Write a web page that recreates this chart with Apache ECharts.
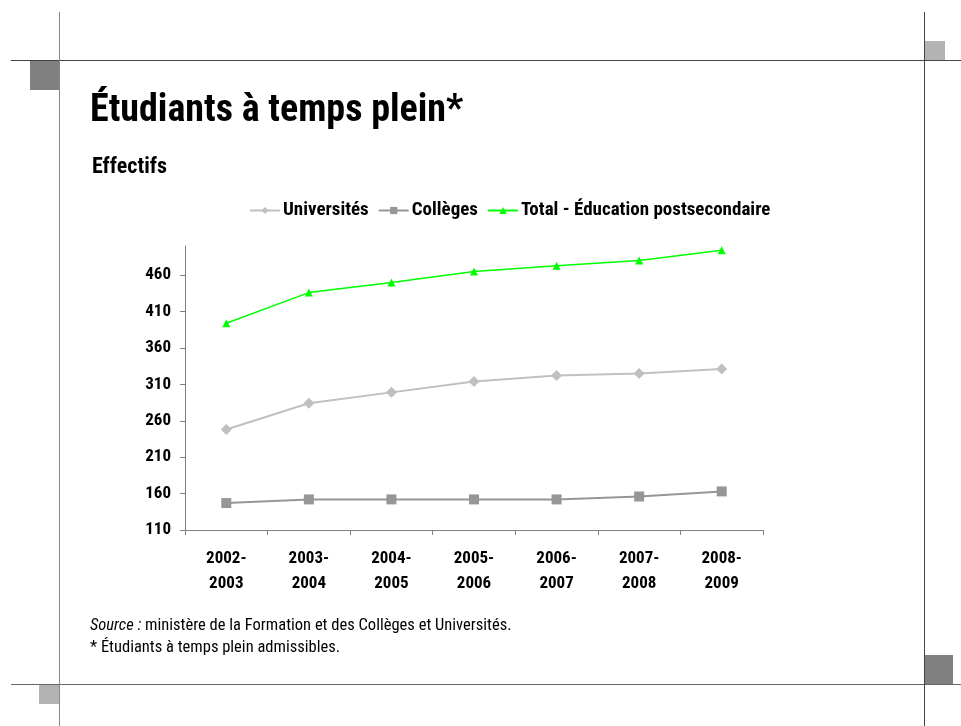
<!DOCTYPE html>
<html>
<head>
<meta charset="utf-8">
<script src="https://cdn.jsdelivr.net/npm/echarts@6/dist/echarts.min.js"></script>
<style>
html,body{margin:0;padding:0;background:#fff;}
#chart{width:961px;height:726px;}
</style>
</head>
<body>
<div id="chart"></div>
<script>
var categories = ['2002-\n2003','2003-\n2004','2004-\n2005','2005-\n2006','2006-\n2007','2007-\n2008','2008-\n2009'];
var universites = [248, 284, 299, 314, 322, 325, 331];
var colleges = [147, 152, 152, 152, 152, 156, 163];
var total = [394, 436, 450, 465, 473, 480, 494];
var yTicks = [110, 160, 210, 260, 310, 360, 410, 460];
var seriesNames = ['Universités', 'Collèges', 'Total - Éducation postsecondaire'];

var FONT = '"Roboto Condensed", "Open Sans Condensed", "DejaVu Sans Condensed", sans-serif';

var chart = echarts.init(document.getElementById('chart'), null, {renderer: 'canvas'});
var option = {
  backgroundColor: '#ffffff',
  animation: false,
  title: [
    {
      text: 'Étudiants à temps plein*',
      left: 85, top: 87,
      textStyle: {fontFamily: FONT, fontWeight: 'bold', fontSize: 38, color: '#000'}
    },
    {
      text: 'Effectifs',
      left: 87, top: 151,
      textStyle: {fontFamily: FONT, fontWeight: 'bold', fontSize: 22, color: '#000'}
    },
    {
      text: '{i|Source :} ministère de la Formation et des Collèges et Universités.\n* Étudiants à temps plein admissibles.',
      left: 85, top: 610,
      textStyle: {
        fontFamily: FONT, fontWeight: 'normal', fontSize: 16.5, color: '#000', lineHeight: 22,
        rich: {i: {fontFamily: FONT, fontStyle: 'italic', fontSize: 16.5, color: '#000'}}
      }
    }
  ],
  legend: {
    left: 244, top: 196,
    itemWidth: 30, itemHeight: 9, itemGap: 9,
    textStyle: {fontFamily: FONT, fontWeight: 'bold', fontSize: 19, color: '#000', padding: [0,0,0,-2]},
    data: seriesNames
  },
  grid: {left: 185, right: 198, top: 246, bottom: 196, containLabel: false, outerBoundsMode: 'none'},
  xAxis: {
    type: 'category',
    data: categories,
    boundaryGap: true,
    axisLine: {lineStyle: {color: '#808080', width: 1}},
    axisTick: {show: true, inside: false, length: 5, alignWithLabel: false, lineStyle: {color: '#808080'}},
    axisLabel: {fontFamily: FONT, fontWeight: 'bold', fontSize: 17, color: '#000', lineHeight: 25, margin: 16, interval: 0},
    splitLine: {show: false}
  },
  yAxis: {
    type: 'value',
    min: 110, max: 500, interval: 50,
    axisLine: {show: true, lineStyle: {color: '#808080', width: 1}},
    axisTick: {show: true, inside: false, length: 5, customValues: yTicks, lineStyle: {color: '#808080'}},
    axisLabel: {fontFamily: FONT, fontWeight: 'bold', fontSize: 17, color: '#000', margin: 14, customValues: yTicks},
    splitLine: {show: false}
  },
  series: [
    {
      name: seriesNames[0], type: 'line', data: universites,
      symbol: 'diamond', symbolSize: 11,
      lineStyle: {color: '#c0c0c0', width: 2},
      itemStyle: {color: '#c0c0c0'},
      z: 3
    },
    {
      name: seriesNames[1], type: 'line', data: colleges,
      symbol: 'rect', symbolSize: 10,
      lineStyle: {color: '#969696', width: 2},
      itemStyle: {color: '#969696'},
      z: 3
    },
    {
      name: seriesNames[2], type: 'line', data: total,
      symbol: 'triangle', symbolSize: 8,
      lineStyle: {color: '#00ff00', width: 1.5},
      itemStyle: {color: '#00ff00'},
      z: 4
    }
  ],
  graphic: [
    {type: 'line', shape: {x1: 11, y1: 60.5, x2: 961, y2: 60.5}, style: {stroke: '#444', lineWidth: 1}, silent: true},
    {type: 'line', shape: {x1: 11, y1: 684.5, x2: 961, y2: 684.5}, style: {stroke: '#666', lineWidth: 1}, silent: true},
    {type: 'line', shape: {x1: 59.5, y1: 12, x2: 59.5, y2: 726}, style: {stroke: '#888', lineWidth: 1}, silent: true},
    {type: 'line', shape: {x1: 924.5, y1: 12, x2: 924.5, y2: 726}, style: {stroke: '#444', lineWidth: 1}, silent: true},
    {type: 'rect', shape: {x: 30, y: 61, width: 29, height: 29}, style: {fill: '#808080'}, silent: true},
    {type: 'rect', shape: {x: 925, y: 41, width: 20, height: 19}, style: {fill: '#b3b3b3'}, silent: true},
    {type: 'rect', shape: {x: 39, y: 685, width: 20, height: 19}, style: {fill: '#b3b3b3'}, silent: true},
    {type: 'rect', shape: {x: 925, y: 655, width: 28, height: 29}, style: {fill: '#808080'}, silent: true}
  ]
};
chart.setOption(option);
</script>
</body>
</html>
